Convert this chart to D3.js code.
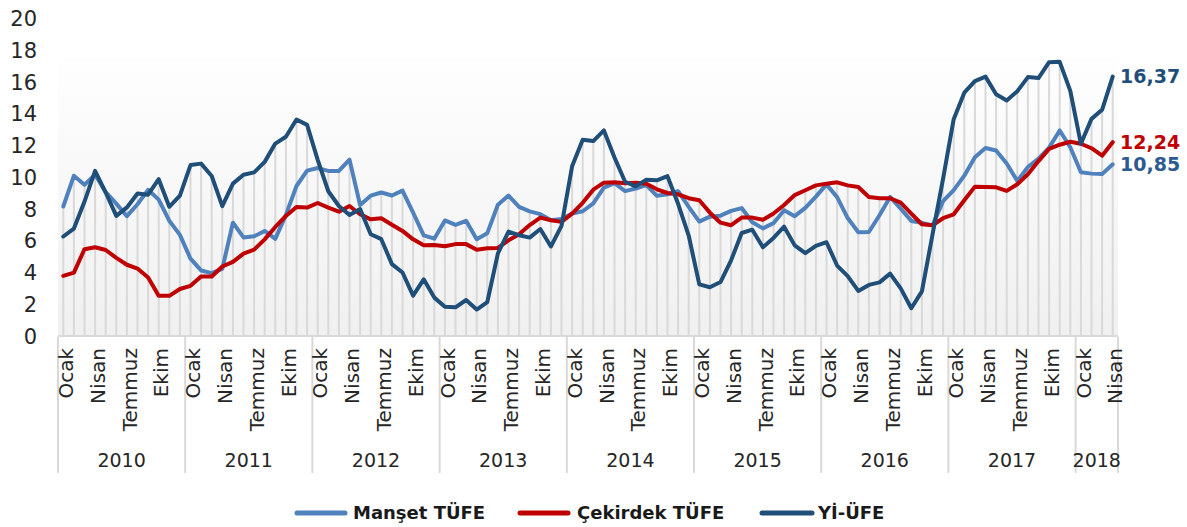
<!DOCTYPE html>
<html><head><meta charset="utf-8">
<script src="https://cdn.jsdelivr.net/npm/d3@7"></script>
<style>
body{margin:0;background:#fff;}
svg{display:block;font-family:"DejaVu Sans",Verdana,sans-serif;}
</style></head>
<body>
<svg id="chart" width="1187" height="527"></svg>
<script>
// ---- data ----
const years = ["2010","2011","2012","2013","2014","2015","2016","2017","2018"];
const monthNames = ["Ocak","Şubat","Mart","Nisan","Mayıs","Haziran","Temmuz","Ağustos","Eylül","Ekim","Kasım","Aralık"];
const shownMonths = ["Ocak","Nisan","Temmuz","Ekim"];
const monthsPerYear = [12,12,12,12,12,12,12,12,4];
const yTicks = [0,2,4,6,8,10,12,14,16,18,20];
const seriesNames = ["Manşet TÜFE","Çekirdek TÜFE","Yİ-ÜFE"];

const mansetTufe = [
 8.19,10.13,9.56,10.19,9.10,8.37,7.58,8.33,9.24,8.62,7.29,6.40,
 4.90,4.16,3.99,4.26,7.17,6.24,6.31,6.65,6.15,7.66,9.48,10.45,
 10.61,10.43,10.43,11.14,8.28,8.87,9.07,8.88,9.19,7.80,6.37,6.16,
 7.31,7.03,7.29,6.13,6.51,8.30,8.88,8.17,7.88,7.71,7.32,7.40,
 7.75,7.89,8.39,9.38,9.66,9.16,9.32,9.54,8.86,8.96,9.15,8.17,
 7.24,7.55,7.61,7.91,8.09,7.20,6.81,7.14,7.95,7.58,8.10,8.81,
 9.58,8.78,7.46,6.57,6.58,7.64,8.79,8.05,7.28,7.16,7.00,8.53,
 9.22,10.13,11.29,11.87,11.72,10.90,9.79,10.68,11.20,11.90,12.98,11.92,
 10.35,10.26,10.23,10.85
];
const cekirdekTufe = [
 3.82,4.02,5.50,5.62,5.45,4.95,4.52,4.28,3.72,2.56,2.56,2.99,
 3.19,3.78,3.78,4.41,4.70,5.22,5.47,6.12,6.90,7.59,8.16,8.12,
 8.41,8.12,7.86,8.22,7.70,7.38,7.45,7.04,6.65,6.12,5.75,5.77,
 5.69,5.82,5.82,5.47,5.56,5.58,6.06,6.44,7.02,7.49,7.32,7.22,
 7.74,8.42,9.25,9.69,9.72,9.66,9.69,9.62,9.27,9.04,8.96,8.71,
 8.58,7.80,7.17,7.01,7.49,7.49,7.35,7.75,8.28,8.91,9.21,9.52,
 9.62,9.71,9.52,9.42,8.79,8.71,8.71,8.43,7.74,7.07,7.01,7.45,
 7.70,8.58,9.44,9.42,9.40,9.17,9.59,10.22,11.05,11.82,12.08,12.27,
 12.14,11.86,11.39,12.24
];
const yiUfe = [
 6.30,6.80,8.50,10.43,9.07,7.60,8.13,9.01,8.93,9.91,8.17,8.87,
 10.80,10.89,10.11,8.21,9.63,10.19,10.34,11.00,12.15,12.58,13.67,13.33,
 11.13,9.15,8.22,7.65,8.03,6.44,6.13,4.56,4.03,2.57,3.60,2.45,
 1.88,1.84,2.30,1.70,2.17,5.23,6.61,6.38,6.23,6.77,5.67,6.97,
 10.72,12.40,12.31,12.98,11.28,9.75,9.46,9.88,9.84,10.10,8.36,6.36,
 3.28,3.10,3.43,4.80,6.52,6.73,5.62,6.21,6.92,5.74,5.25,5.71,
 5.94,4.47,3.80,2.87,3.25,3.41,3.96,3.03,1.78,2.84,6.41,9.94,
 13.69,15.36,16.09,16.37,15.26,14.87,15.45,16.34,16.28,17.28,17.30,15.47,
 12.14,13.71,14.28,16.37
];

(function(){
// ---- build categories ----
const cats = [];
years.forEach((yr, yi) => {
  for (let m = 0; m < monthsPerYear[yi]; m++) cats.push({key: yr + "-" + (m+1), year: yr, month: monthNames[m]});
});
const seriesData = [
  {name: seriesNames[0], values: mansetTufe, color: "#4f81bd", label: "#2c5b91"},
  {name: seriesNames[1], values: cekirdekTufe, color: "#c00000", label: "#c00000"},
  {name: seriesNames[2], values: yiUfe, color: "#1f4e79", label: "#1f4e79"}
];

const svg = d3.select("#chart");
const pL = 58, pR = 1118, pB = 336.5, pT = 19;
const x = d3.scaleBand().domain(cats.map(c => c.key)).range([pL, pR]).padding(0);
const bw = x.bandwidth();
const cx = k => x(k) + bw/2;
const y = d3.scaleLinear().domain([0, 20]).range([pB, pT]);

// gradient background
const defs = svg.append("defs");
const grad = defs.append("linearGradient").attr("id","bg").attr("x1",0).attr("y1",0).attr("x2",0).attr("y2",1);
grad.append("stop").attr("offset","0%").attr("stop-color","#fefefe");
grad.append("stop").attr("offset","100%").attr("stop-color","#f0f0f0");
svg.append("rect").attr("x", pL).attr("y", 58).attr("width", pR-pL).attr("height", pB-58).attr("fill","url(#bg)");

// drop lines
svg.append("g").selectAll("line").data(cats).join("line")
  .attr("x1", (c) => cx(c.key)).attr("x2", (c) => cx(c.key))
  .attr("y1", y(0))
  .attr("y2", (c, i) => y(d3.max(seriesData, s => s.values[i])))
  .attr("stroke", "#d9d9d9").attr("stroke-width", 2);

// x axis line
svg.append("line").attr("x1", pL).attr("x2", pR).attr("y1", 336).attr("y2", 336)
  .attr("stroke","#d9d9d9").attr("stroke-width",2);

// y axis
const yAxis = svg.append("g").attr("transform", `translate(${pL},0)`)
  .call(d3.axisLeft(y).tickValues(yTicks).tickSize(0).tickPadding(21));
yAxis.select(".domain").remove();
yAxis.selectAll("text").attr("font-size", 21).attr("fill", "#262626").attr("font-family","DejaVu Sans");

// year separators (drawn beneath labels)
const yearStarts = [];
let idx = 0;
years.forEach((yr, yi) => { yearStarts.push({yr, start: idx, end: idx + monthsPerYear[yi]}); idx += monthsPerYear[yi]; });
const sep = svg.append("g");
yearStarts.forEach(ys => {
  sep.append("line").attr("x1", x(cats[ys.start].key)).attr("x2", x(cats[ys.start].key))
    .attr("y1", 337).attr("y2", 473).attr("stroke","#d9d9d9").attr("stroke-width",2);
});
sep.append("line").attr("x1", pR).attr("x2", pR).attr("y1", 337).attr("y2", 473).attr("stroke","#d9d9d9").attr("stroke-width",2);

// month labels
const labelled = cats.filter(c => shownMonths.includes(c.month)).map(c => c.key);
const xAxis = svg.append("g").attr("transform", `translate(0,336)`)
  .call(d3.axisBottom(x).tickValues(labelled).tickSize(0).tickFormat(k => cats.find(c => c.key === k).month));
xAxis.select(".domain").remove();
xAxis.selectAll("text")
  .attr("transform","rotate(-90)").attr("x",-12).attr("y",0).attr("dy","0.48em")
  .style("text-anchor","end").attr("font-size",20).attr("fill","#262626").attr("font-family","DejaVu Sans");

// year labels
svg.append("g").selectAll("text").data(yearStarts).join("text")
  .attr("x", d => (x(cats[d.start].key) + x(cats[d.end-1].key) + bw) / 2)
  .attr("y", 460).attr("dy","0.36em").attr("text-anchor","middle")
  .attr("font-size", 19).attr("fill","#262626").text(d => d.yr);

// lines
const line = d3.line().x((v, i) => cx(cats[i].key)).y(v => y(v));
svg.append("g").selectAll("path").data(seriesData).join("path")
  .attr("d", s => line(s.values)).attr("fill","none")
  .attr("stroke", s => s.color).attr("stroke-width", 4)
  .attr("stroke-linejoin","round").attr("stroke-linecap","round");

// end labels
svg.append("g").selectAll("text").data(seriesData).join("text")
  .attr("x", 1120).attr("y", s => y(s.values[s.values.length-1])).attr("dy","0.36em")
  .attr("font-size", 19).attr("font-weight","bold").attr("fill", s => s.label)
  .text(s => d3.format(".2f")(s.values[s.values.length-1]).replace(".", ","));

// legend
const legendPos = [{x1:297,x2:345,tx:353},{x1:520,x2:568,tx:577},{x1:762,x2:812,tx:818}];
const lg = svg.append("g");
seriesData.forEach((s, i) => {
  const p = legendPos[i];
  lg.append("line").attr("x1",p.x1).attr("x2",p.x2).attr("y1",513).attr("y2",513)
    .attr("stroke", s.color).attr("stroke-width",5).attr("stroke-linecap","round");
  lg.append("text").attr("x", p.tx).attr("y", 513).attr("dy","0.36em")
    .attr("font-size",18).attr("font-weight","bold").attr("fill","#1a1a1a").text(s.name);
});
})();
</script>
</body></html>
